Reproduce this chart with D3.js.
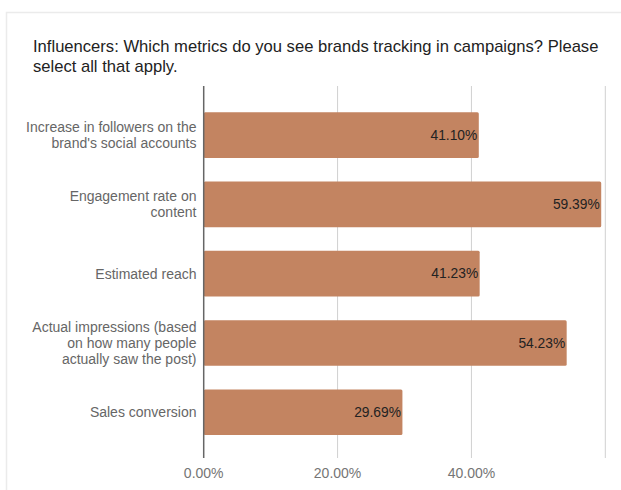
<!DOCTYPE html>
<html>
<head>
<meta charset="utf-8">
<script src="https://cdn.jsdelivr.net/npm/d3@7"></script>
<style>
  html, body { margin: 0; padding: 0; background: #fff; }
  svg { display: block; font-family: "Liberation Sans", Arial, sans-serif; }
</style>
</head>
<body>
<svg id="chart" width="621" height="490"></svg>
<script>
const titleLines = [
  "Influencers: Which metrics do you see brands tracking in campaigns? Please",
  "select all that apply."
];
const categories = [
  ["Increase in followers on the", "brand's social accounts"],
  ["Engagement rate on", "content"],
  ["Estimated reach"],
  ["Actual impressions (based", "on how many people", "actually saw the post)"],
  ["Sales conversion"]
];
const values = [41.10, 59.39, 41.23, 54.23, 29.69];
const gridTicks = [0, 20, 40, 60];
const tickLabels = ["0.00%", "20.00%", "40.00%"];

const svg = d3.select("#chart");

// card outline
svg.append("path")
  .attr("d", "M6.5,490 V12.5 H621")
  .attr("fill", "none")
  .attr("stroke", "#ebebeb")
  .attr("stroke-width", 1.5);

// title
svg.append("text")
  .attr("x", 33)
  .attr("y", 52)
  .attr("font-size", 16.6)
  .attr("fill", "#222")
  .selectAll("tspan")
  .data(titleLines)
  .join("tspan")
  .attr("x", 33)
  .attr("dy", (d, i) => i === 0 ? 0 : 19.5)
  .text(d => d);

const x = d3.scaleLinear().domain([0, 60]).range([203.7, 605.3]);
const ids = d3.range(values.length);
const y = d3.scaleBand().domain(ids).range([88.6, 458.7]).padding(0.342);

const gTop = 86, gBottom = 458;

// gridlines
svg.append("g")
  .selectAll("line")
  .data(gridTicks.filter(t => t !== 0))
  .join("line")
  .attr("x1", d => x(d)).attr("x2", d => x(d))
  .attr("y1", gTop).attr("y2", gBottom)
  .attr("stroke", "#d0d0d0")
  .attr("stroke-width", 1);

// bars
svg.append("g")
  .selectAll("rect")
  .data(ids)
  .join("rect")
  .attr("x", x(0))
  .attr("y", i => y(i))
  .attr("width", i => x(values[i]) - x(0))
  .attr("height", y.bandwidth())
  .attr("rx", 1.5)
  .attr("fill", "#c38461");

// zero axis line
svg.append("line")
  .attr("x1", x(0)).attr("x2", x(0))
  .attr("y1", gTop).attr("y2", gBottom)
  .attr("stroke", "#666")
  .attr("stroke-width", 1.5);

// value labels
svg.append("g")
  .selectAll("text")
  .data(ids)
  .join("text")
  .attr("x", i => x(values[i]) - 1.5)
  .attr("y", i => y(i) + y.bandwidth() / 2)
  .attr("dy", "0.35em")
  .attr("text-anchor", "end")
  .attr("font-size", 13.8)
  .attr("fill", "#222")
  .text(i => values[i].toFixed(2) + "%");

// category labels
const cat = svg.append("g")
  .selectAll("text")
  .data(ids)
  .join("text")
  .attr("text-anchor", "end")
  .attr("font-size", 14)
  .attr("fill", "#666")
  .attr("y", i => y(i) + y.bandwidth() / 2 - (categories[i].length - 1) * 8);
cat.selectAll("tspan")
  .data(i => categories[i])
  .join("tspan")
  .attr("x", 196.5)
  .attr("dy", (d, j) => j === 0 ? "0.35em" : 16)
  .text(d => d);

// x tick labels
svg.append("g")
  .selectAll("text")
  .data(tickLabels)
  .join("text")
  .attr("x", (d, i) => x(gridTicks[i]))
  .attr("y", 478)
  .attr("text-anchor", "middle")
  .attr("font-size", 14)
  .attr("fill", "#757575")
  .text(d => d);
</script>
</body>
</html>
